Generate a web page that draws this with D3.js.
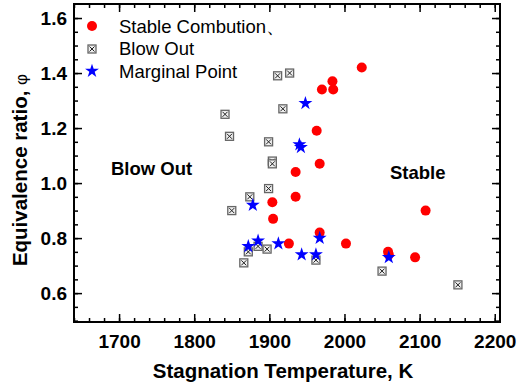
<!DOCTYPE html>
<html>
<head>
<meta charset="utf-8">
<script src="https://cdn.jsdelivr.net/npm/d3@7"></script>
<style>
  body { margin: 0; background: #fff; }
  svg { font-family: Arial, "Liberation Sans", sans-serif; }
</style>
</head>
<body>
<svg id="chart" width="517" height="385"></svg>
<script>
// data: [temperature K, equivalence ratio]
const stable = [
  [2023, 1.42], [1984, 1.37], [1970, 1.34], [1985, 1.34], [1963, 1.19],
  [1967, 1.07], [1935, 1.04], [1935, 0.95], [1904, 0.93], [1905, 0.87],
  [1967, 0.82], [1926, 0.78], [2002, 0.78], [2058, 0.75], [2059, 0.74],
  [2094, 0.73], [2108, 0.90]
];
const blowOut = [
  [1841, 1.25], [1847, 1.17], [1874, 0.95], [1911, 1.39], [1927, 1.40],
  [1918, 1.27], [1899, 1.15], [1904, 1.08], [1904, 1.07], [1899, 0.98],
  [1850, 0.90], [1872, 0.75], [1885, 0.77], [1897, 0.76], [1866, 0.71],
  [1962, 0.72], [2050, 0.68], [2151, 0.63]
];
const marginal = [
  [1948, 1.29], [1940, 1.14], [1942, 1.13], [1878, 0.92], [1872, 0.77],
  [1885, 0.79], [1912, 0.78], [1943, 0.74], [1962, 0.74], [1967, 0.80],
  [2059, 0.73]
];
const xTicks = [1700, 1800, 1900, 2000, 2100, 2200];
const yTicks = [0.6, 0.8, 1.0, 1.2, 1.4, 1.6];
const legendLabels = ["Stable Combution、", "Blow Out", "Marginal Point"];

let margin = { top: 4, left: 74 };
let width = 426;
let height = 318;

let svg = d3.select("#chart");
let g = svg.append("g").attr("transform", `translate(${margin.left},${margin.top})`);

let x = d3.scaleLinear().domain([1640, 2207]).range([0, width]);
let y = d3.scaleLinear().domain([0.495, 1.651]).range([height, 0]);

let xMinor = d3.range(1640, 2207, 20);
let yMinor = d3.range(0.5, 1.65, 0.05);

// draw an axis with inward ticks; labels only where asked
function drawAxis(axis, transform, labels) {
  let a = g.append("g").attr("transform", transform).call(axis);
  a.select(".domain").remove();
  a.selectAll("line").attr("stroke", "#000").attr("stroke-width", 1.5);
  if (!labels) a.selectAll("text").remove();
  return a;
}

// bottom
drawAxis(d3.axisBottom(x).tickValues(xMinor).tickSize(-4).tickFormat(""), `translate(0,${height})`, false);
let xa = drawAxis(d3.axisBottom(x).tickValues(xTicks).tickSize(-8).tickPadding(13).tickFormat(d3.format("d")), `translate(0,${height})`, true);
// top
drawAxis(d3.axisTop(x).tickValues(xMinor).tickSize(-4), "translate(0,0)", false);
drawAxis(d3.axisTop(x).tickValues(xTicks).tickSize(-8), "translate(0,0)", false);
// left
drawAxis(d3.axisLeft(y).tickValues(yMinor).tickSize(-4).tickFormat(""), "translate(0,0)", false);
let ya = drawAxis(d3.axisLeft(y).tickValues(yTicks).tickSize(-8).tickPadding(7).tickFormat(d3.format(".1f")), "translate(0,0)", true);
// right
drawAxis(d3.axisRight(y).tickValues(yMinor).tickSize(-4), `translate(${width},0)`, false);
drawAxis(d3.axisRight(y).tickValues(yTicks).tickSize(-8), `translate(${width},0)`, false);

xa.selectAll("text").attr("font-size", 19).attr("font-weight", "bold").attr("fill", "#000")
  .attr("font-family", "Arial, 'Liberation Sans', sans-serif");
ya.selectAll("text").attr("font-size", 19).attr("font-weight", "bold").attr("fill", "#000")
  .attr("font-family", "Arial, 'Liberation Sans', sans-serif");

// frame
g.append("rect")
  .attr("width", width).attr("height", height)
  .attr("fill", "none").attr("stroke", "#000").attr("stroke-width", 2);

// marker helpers
function drawBox(sel) {
  sel.append("rect").attr("x", -4).attr("y", -4).attr("width", 8).attr("height", 8)
    .attr("fill", "#eee").attr("stroke", "#666").attr("stroke-width", 1.3);
  sel.append("path").attr("d", "M-2.5,-2.5L2.5,2.5M2.5,-2.5L-2.5,2.5")
    .attr("stroke", "#222").attr("stroke-width", 1);
}
let star = d3.symbol().type(d3.symbolStar).size(60);

// blow out boxes
g.append("g").selectAll("g").data(blowOut).enter().append("g")
  .attr("transform", d => `translate(${x(d[0])},${y(d[1])})`)
  .each(function() { drawBox(d3.select(this)); });

// stable circles
g.append("g").selectAll("circle").data(stable).enter().append("circle")
  .attr("cx", d => x(d[0])).attr("cy", d => y(d[1]))
  .attr("r", 5).attr("fill", "#ff0000");

// marginal stars
g.append("g").selectAll("path").data(marginal).enter().append("path")
  .attr("d", star)
  .attr("transform", d => `translate(${x(d[0])},${y(d[1])})`)
  .attr("fill", "#0000ff");

// legend
let lg = svg.append("g");
lg.append("circle").attr("cx", 92).attr("cy", 26).attr("r", 5).attr("fill", "#ff0000");
drawBox(lg.append("g").attr("transform", "translate(92,49)"));
lg.append("path").attr("d", star).attr("transform", "translate(92,71)").attr("fill", "#0000ff");
lg.selectAll("text").data(legendLabels).enter().append("text")
  .attr("x", 119).attr("y", (d, i) => 26 + i * 22.5)
  .attr("dy", "0.36em")
  .attr("font-size", 18.5)
  .text(d => d);

// region annotations
svg.append("text").attr("x", 111).attr("y", 175)
  .attr("font-size", 18.5).attr("font-weight", "bold").text("Blow Out");
svg.append("text").attr("x", 390).attr("y", 179)
  .attr("font-size", 18.5).attr("font-weight", "bold").text("Stable");

// axis titles
svg.append("text").attr("x", 283).attr("y", 378)
  .attr("text-anchor", "middle").attr("font-size", 20.5).attr("font-weight", "bold")
  .text("Stagnation Temperature, K");

let yl = svg.append("text")
  .attr("transform", "translate(27,170) rotate(-90)")
  .attr("text-anchor", "middle").attr("font-size", 20.5).attr("font-weight", "bold");
yl.append("tspan").text("Equivalence ratio, ");
yl.append("tspan").attr("font-weight", "normal").attr("font-size", 17).text("φ");
</script>
</body>
</html>
